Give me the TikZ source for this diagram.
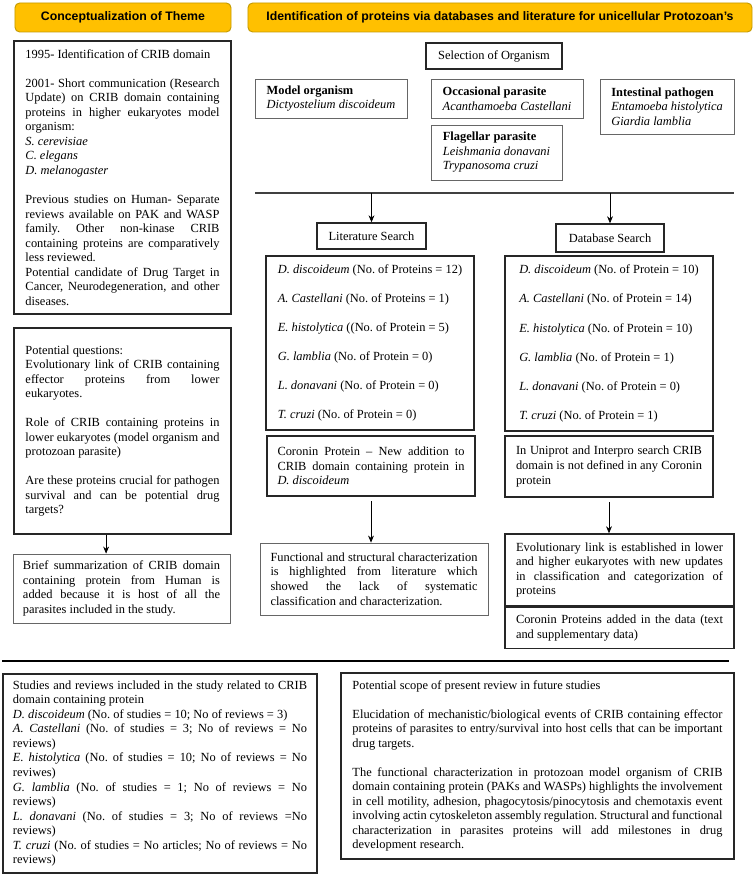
\documentclass[tikz,border=0pt]{standalone}
\usepackage{fontspec}
\setmainfont{Liberation Serif}
\setsansfont{Liberation Sans}
\usepackage{tikz}
\usetikzlibrary{positioning}
\usetikzlibrary{arrows,arrows.meta}
\tikzset{>=stealth}
\definecolor{headgold}{HTML}{FFC000}
\definecolor{headedge}{HTML}{C49A00}
\newcommand{\emptyline}{\\[12.4pt]}
\newcommand{\bodyfont}{\fontsize{10.6}{12.4}\selectfont\frenchspacing\hyphenpenalty=10000\relax}
\tikzset{
  head/.style={draw=headedge, fill=headgold, rounded corners=4pt, line width=0.8pt, inner sep=0pt,
    font=\sffamily\bfseries\fontsize{10.5}{12}\selectfont},
  box/.style={draw=black!85, line width=1.2pt, inner sep=0pt, font=\bodyfont},
  lbox/.style={draw=black!60, line width=0.7pt, inner sep=0pt, font=\bodyfont},
  arr/.style={-{Stealth[length=6pt,width=5pt]}, line width=0.6pt}
}

\begin{document}
\begin{tikzpicture}[x=0.03cm, y=-0.03cm]
\useasboundingbox (0,0) rectangle (754,876);

\node[head, minimum width=6.48cm, minimum height=0.87cm] (h1) at (123,17.5) {Conceptualization of Theme};
\node[head, minimum width=15.12cm, minimum height=0.87cm] (h2) at (500,17.5)
  {Identification of proteins via databases and literature for unicellular Protozoan's};

\node[box, minimum width=6.51cm, minimum height=8.19cm, text width=5.82cm, align=justify] (t1) at (122.5,177.5) {
1995- Identification of CRIB domain\emptyline
2001- Short communication (Research \linebreak Update) on CRIB domain containing \linebreak
proteins in higher eukaryotes model \linebreak organism:\\
\textit{S. cerevisiae}\\
\textit{C. elegans}\\
\textit{D. melanogaster}\emptyline
Previous studies on Human- Separate \linebreak reviews available on PAK and WASP \linebreak
family. Other non-kinase CRIB \linebreak containing proteins are comparatively \linebreak
less reviewed.\\
Potential candidate of Drug Target in \linebreak Cancer, Neurodegeneration, and other \linebreak diseases.};

\node[box, minimum width=6.51cm, minimum height=6.18cm, text width=5.82cm, align=justify] (q1) at (122.5,431) {
Potential questions:\\
Evolutionary link of CRIB containing \linebreak effector proteins from lower \linebreak eukaryotes.\emptyline
Role of CRIB containing proteins in \linebreak lower eukaryotes (model organism and \linebreak
protozoan parasite)\emptyline
Are these proteins crucial for pathogen \linebreak survival and can be potential drug \linebreak targets?};

\node[lbox, minimum width=6.51cm, minimum height=2.07cm, text width=5.91cm, align=justify] (s1) at (121.5,588.5) {
Brief summarization of CRIB domain \linebreak containing protein from Human is \linebreak
added because it is host of all the \linebreak parasites included in the study.};

\draw[arr] ([xshift=-14pt]q1.south) -- ([xshift=-14pt]q1.south |- s1.north);

\node[box, minimum width=4.08cm, minimum height=0.78cm] (sel) at (494,56) {Selection of Organism};

\node[lbox, minimum width=4.56cm, minimum height=1.17cm, align=left] (mod) at (331,98.5)
  {\textbf{Model organism}\\\textit{Dictyostelium discoideum}};
\node[lbox, minimum width=4.56cm, minimum height=1.17cm, align=left] (occ) at (507,98.5)
  {\textbf{Occasional parasite}\\\textit{Acanthamoeba Castellani}};
\node[lbox, minimum width=4.02cm, minimum height=1.65cm, align=left] (int) at (667,106.5)
  {\textbf{Intestinal pathogen}\\\textit{Entamoeba histolytica}\\\textit{Giardia lamblia}};
\node[lbox, minimum width=3.93cm, minimum height=1.65cm, align=left] (fla) at (496.5,152.5)
  {\textbf{Flagellar parasite}\\\textit{Leishmania donavani}\\\textit{Trypanosoma cruzi}};

\coordinate (barL) at (255,193);
\coordinate (barR) at (734,193);
\draw[line width=1.2pt, black!75] (barL) -- (barR);

\node[box, minimum width=3.27cm, minimum height=0.78cm] (lit) at (371.5,236) {Literature Search};
\node[box, minimum width=3.24cm, minimum height=0.84cm] (db) at (610,238) {Database Search};
\draw[arr] (barL -| lit.north) -- (lit.north);
\draw[arr] (barL -| db.north) -- (db.north);

\node[box, minimum width=6.24cm, minimum height=5.22cm, align=left] (litl) at (370,343) {
\textit{D. discoideum} (No. of Proteins = 12)\emptyline
\textit{A. Castellani} (No. of Proteins = 1)\emptyline
\textit{E. histolytica} ((No. of Protein = 5)\emptyline
\textit{G. lamblia} (No. of Protein = 0)\emptyline
\textit{L. donavani} (No. of Protein = 0)\emptyline
\textit{T. cruzi} (No. of Protein = 0)};

\node[box, minimum width=6.24cm, minimum height=5.25cm, align=left] (dbl) at (609,343.5) {
\textit{D. discoideum} (No. of Protein = 10)\emptyline
\textit{A. Castellani} (No. of Protein = 14)\emptyline
\textit{E. histolytica} (No. of Protein = 10)\emptyline
\textit{G. lamblia} (No. of Protein = 1)\emptyline
\textit{L. donavani} (No. of Protein = 0)\emptyline
\textit{T. cruzi} (No. of Protein = 1)};

\node[box, minimum width=6.24cm, minimum height=1.8cm, text width=5.61cm, align=justify] (cor) at (371,466) {
Coronin Protein -- New addition to \linebreak CRIB domain containing protein in \linebreak \textit{D. discoideum}};
\node[box, minimum width=6.24cm, minimum height=1.83cm, text width=5.58cm, align=justify] (uni) at (609,466.5) {
In Uniprot and Interpro search CRIB \linebreak domain is not defined in any Coronin \linebreak protein};

\node[lbox, minimum width=6.84cm, minimum height=2.16cm, text width=6.21cm, align=justify] (fun) at (374,579) {
Functional and structural characterization \linebreak is highlighted from literature which \linebreak
showed the lack of systematic \linebreak classification and characterization.};
\node[box, minimum width=6.87cm, minimum height=2.16cm, text width=6.21cm, align=justify] (evo) at (619.5,570) {
Evolutionary link is established in lower \linebreak and higher eukaryotes with new updates \linebreak
in classification and categorization of \linebreak proteins};
\node[box, minimum width=6.87cm, minimum height=1.23cm, text width=6.21cm, align=justify, below=0pt of evo] (add) {
Coronin Proteins added in the data (text \linebreak and supplementary data)};

\draw[arr, shorten <=4pt] (cor.south) -- (cor.south |- fun.north);
\draw[arr, shorten <=4pt] (uni.south) -- (uni.south |- evo.north);

\coordinate (sepL) at (2,661);
\coordinate (sepR) at (729,661);
\draw[line width=1.6pt] (sepL) -- (sepR);

\node[box, minimum width=9.42cm, minimum height=5.97cm, text width=8.82cm, align=justify] (stu) at (160,773.5) {
Studies and reviews included in the study related to CRIB \linebreak domain containing protein\\
\textit{D. discoideum} (No. of studies = 10; No of reviews = 3)\\
\textit{A. Castellani} (No. of studies = 3; No of reviews = No \linebreak reviews)\\
\textit{E. histolytica} (No. of studies = 10; No of reviews = No \linebreak reviwes)\\
\textit{G. lamblia} (No. of studies = 1; No of reviews = No \linebreak reviews)\\
\textit{L. donavani} (No. of studies = 3; No of reviews =No \linebreak reviews)\\
\textit{T. cruzi} (No. of studies = No articles; No of reviews = No \linebreak reviews)};

\node[box, minimum width=11.79cm, minimum height=5.58cm, text width=11.1cm, align=justify] (sco) at (537.5,766) {
Potential scope of present review in future studies\emptyline
Elucidation of mechanistic/biological events of CRIB containing effector \linebreak proteins of parasites to
entry/survival into host cells that can be important \linebreak drug targets.\emptyline
The functional characterization in protozoan model organism of CRIB \linebreak domain containing protein
(PAKs and WASPs) highlights the involvement \linebreak in cell motility, adhesion, phagocytosis/pinocytosis and
chemotaxis event \linebreak involving actin cytoskeleton assembly regulation. Structural and functional \linebreak
characterization in parasites proteins will add milestones in drug \linebreak development research.};
\end{tikzpicture}
\end{document}
